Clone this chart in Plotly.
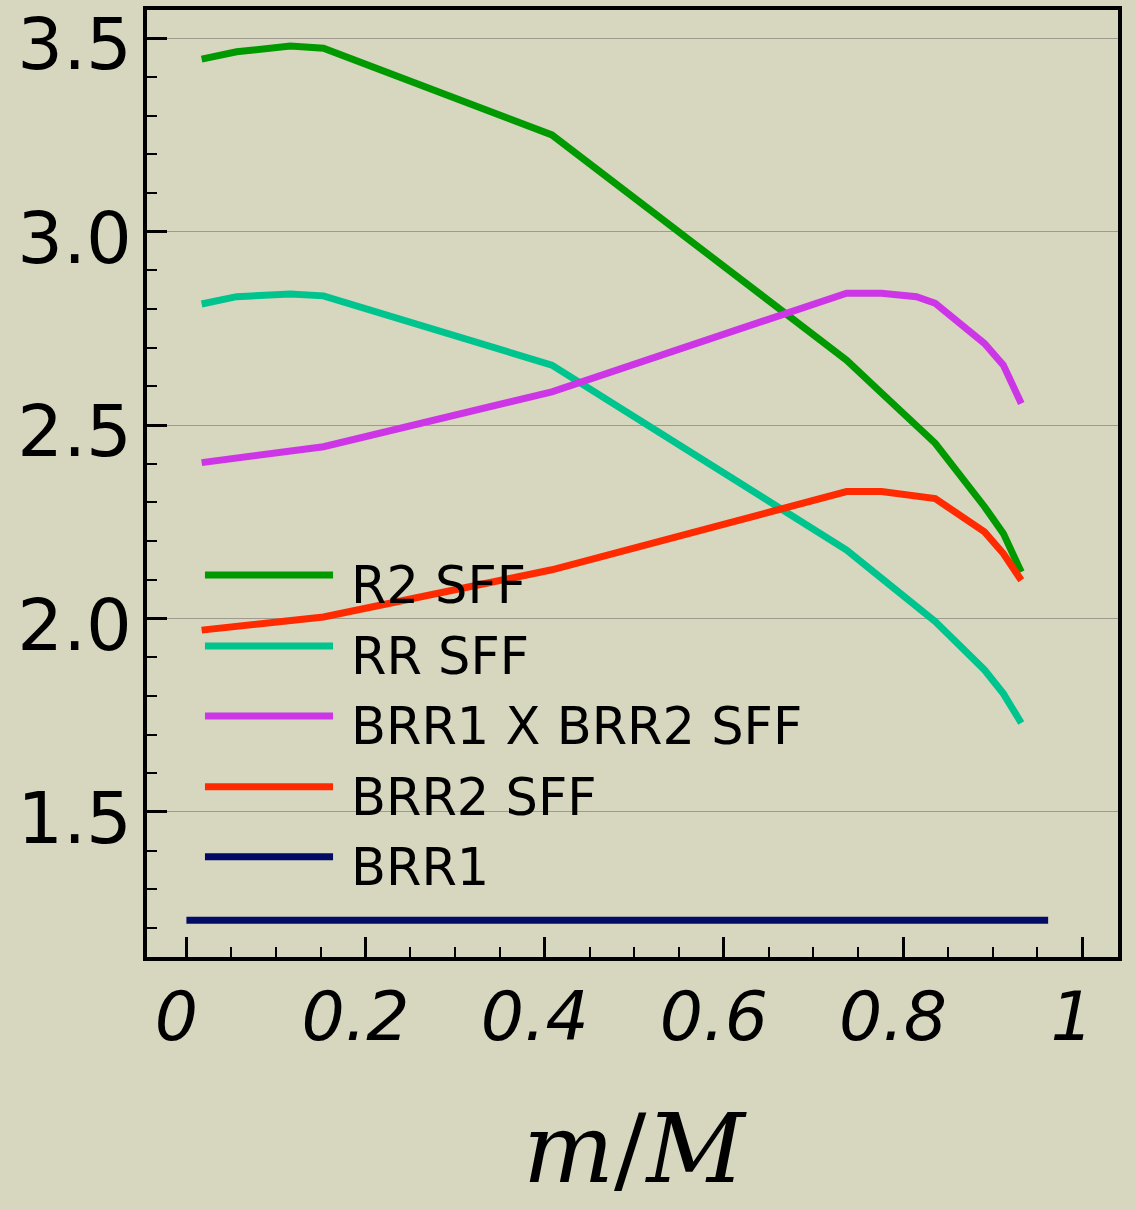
import plotly.graph_objects as go

# ---- data ----
m_over_M = [0.017, 0.056, 0.116, 0.153, 0.408, 0.737, 0.776, 0.815, 0.836, 0.891, 0.912, 0.932]
r2_sff = [3.446, 3.465, 3.480, 3.474, 3.250, 2.668, 2.583, 2.497, 2.453, 2.289, 2.220, 2.120]
rr_sff = [2.813, 2.832, 2.839, 2.834, 2.655, 2.177, 2.104, 2.030, 1.992, 1.867, 1.806, 1.730]
brr1xbrr2_sff = [2.403, 2.414, 2.432, 2.444, 2.586, 2.841, 2.841, 2.832, 2.815, 2.711, 2.655, 2.556]
brr2_sff = [1.970, 1.980, 1.994, 2.004, 2.126, 2.328, 2.328, 2.319, 2.310, 2.224, 2.168, 2.099]
brr1_x = [0.0, 0.962]
brr1 = [1.22, 1.22]

series_names = ["R2 SFF", "RR SFF", "BRR1 X BRR2 SFF", "BRR2 SFF", "BRR1"]
series_colors = ["#009A00", "#00C48E", "#CC36E6", "#FF2A00", "#020C66"]

x_tickvals = [0, 0.2, 0.4, 0.6, 0.8, 1]
x_ticktext = ["0", "0.2", "0.4", "0.6", "0.8", "1"]
y_tickvals = [1.5, 2.0, 2.5, 3.0, 3.5]

BG = "#D7D6BF"

fig = go.Figure()
xs = [m_over_M, m_over_M, m_over_M, m_over_M, brr1_x]
ys = [r2_sff, rr_sff, brr1xbrr2_sff, brr2_sff, brr1]
for name, color, x, y in zip(series_names, series_colors, xs, ys):
    fig.add_trace(go.Scatter(x=x, y=y, mode="lines", name=name,
                             line=dict(color=color, width=7),
                             showlegend=False, hoverinfo="skip"))

# custom legend (long line samples like the reference)
leg_y = [0.4034, 0.3284, 0.2545, 0.1798, 0.1059]
for name, color, ly in zip(series_names, series_colors, leg_y):
    fig.add_shape(type="line", xref="paper", yref="paper",
                  x0=0.0597, x1=0.1916, y0=ly, y1=ly,
                  line=dict(color=color, width=7))
    fig.add_annotation(xref="paper", yref="paper", x=0.208, y=ly - 0.0115,
                       xanchor="left", yanchor="middle", showarrow=False,
                       text=name, font=dict(family="DejaVu Sans", size=51, color="black"))

# axis title m/M
fig.add_annotation(xref="paper", yref="paper", x=0.503, y=-0.2025,
                   xanchor="center", yanchor="middle", showarrow=False,
                   text="<i>m</i>/<i>M</i>",
                   font=dict(family="DejaVu Serif", size=96, color="black"))

fig.update_layout(
    width=1135, height=1210,
    margin=dict(l=147, r=17, t=10, b=253),
    paper_bgcolor=BG, plot_bgcolor=BG,
    showlegend=False,
)
fig.update_xaxes(
    range=[-0.044, 1.040], tickvals=x_tickvals,
    ticktext=["<i>%s</i>" % t for t in x_ticktext],
    tickfont=dict(family="DejaVu Sans", size=68, color="black"),
    ticks="inside", ticklen=20, tickwidth=3, tickcolor="black",
    ticklabelstandoff=-2, ticklabelshift=-10, ticklabeloverflow="allow",
    minor=dict(dtick=0.05, tick0=0, ticks="inside", ticklen=10, tickwidth=2,
               tickcolor="black", showgrid=False),
    showgrid=False, zeroline=False, automargin=False,
    showline=True, linecolor="black", linewidth=3.5, mirror=True,
)
fig.update_yaxes(
    range=[1.125, 3.573], tickvals=y_tickvals, tickformat=".1f",
    tickfont=dict(family="DejaVu Sans", size=72, color="black"),
    ticks="inside", ticklen=20, tickwidth=3, tickcolor="black",
    ticklabelstandoff=-3, ticklabelshift=6, ticklabeloverflow="allow",
    minor=dict(dtick=0.1, tick0=0, ticks="inside", ticklen=10, tickwidth=2,
               tickcolor="black", showgrid=False),
    showgrid=True, gridcolor="#9C9B8E", gridwidth=1, zeroline=False, automargin=False,
    showline=True, linecolor="black", linewidth=3.5, mirror=True,
)

fig.write_html("out.html")
